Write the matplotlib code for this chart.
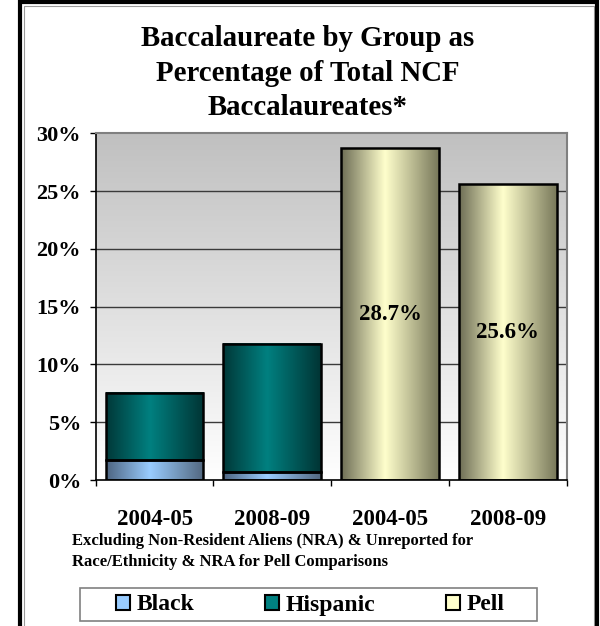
import matplotlib
matplotlib.use('Agg')
import matplotlib.pyplot as plt
import numpy as np
from matplotlib.colors import LinearSegmentedColormap
from matplotlib.patches import Patch, Rectangle
from matplotlib.lines import Line2D

# ---------------- data ----------------
categories = ["2004-05", "2008-09", "2004-05", "2008-09"]
race_positions = [0, 1]
pell_positions = [2, 3]
black_pct = [1.7, 0.7]
hispanic_pct = [5.8, 11.1]
pell_pct = [28.7, 25.6]
pell_labels = ["28.7%", "25.6%"]
y_ticks = [0, 5, 10, 15, 20, 25, 30]
y_tick_labels = ["0%", "5%", "10%", "15%", "20%", "25%", "30%"]
title_lines = ["Baccalaureate by Group as",
               "Percentage of Total NCF",
               "Baccalaureates*"]
footnote_lines = ["Excluding Non-Resident Aliens (NRA) & Unreported for",
                  "Race/Ethnicity & NRA for Pell Comparisons"]
legend_labels = ["Black", "Hispanic", "Pell"]

# ---------------- style ----------------
plt.rcParams['font.family'] = ['Liberation Serif', 'DejaVu Serif']
plt.rcParams['font.weight'] = 'bold'

W, H = 600, 626
fx = lambda x: x / W
fy = lambda y: 1 - y / H

series_colors = {
    "Black": ("#4d6480", "#99ccff", "#52677f"),
    "Hispanic": ("#003838", "#008080", "#003434"),
    "Pell": ("#6d6d55", "#ffffcc", "#78785a"),
}
cmaps = {k: LinearSegmentedColormap.from_list(k, [(0, v[0]), (0.45, v[1]), (1, v[2])])
         for k, v in series_colors.items()}

fig = plt.figure(figsize=(W / 100, H / 100), dpi=100)
ax = fig.add_axes([fx(95.7), fy(480), (566.7 - 95.7) / W, (480 - 133.3) / H])

# plot-area gradient background
bg_cmap = LinearSegmentedColormap.from_list("bg", ["#ffffff", "#c0c0c0"])
ax.imshow(np.linspace(1, 0, 256).reshape(-1, 1), cmap=bg_cmap, aspect='auto',
          extent=(-0.5, 3.5, 0, 30), origin='upper', zorder=0)
ax.hlines(y_ticks[1:-1], -0.5, 3.5, colors='#3a3a3a', lw=1, zorder=1)

width = 0.83
bar_kw = dict(facecolor='none', edgecolor='black', linewidth=1.8, zorder=3)
black_bars = ax.bar(race_positions, black_pct, width, **bar_kw)
hisp_bars = ax.bar(race_positions, hispanic_pct, width, bottom=black_pct, **bar_kw)
pell_bars = ax.bar(pell_positions, pell_pct, width, **bar_kw)

grad = np.linspace(0, 1, 256).reshape(1, -1)
for bars, name in [(black_bars, "Black"), (hisp_bars, "Hispanic"), (pell_bars, "Pell")]:
    for r in bars:
        x0, y0, w, h = r.get_x(), r.get_y(), r.get_width(), r.get_height()
        ax.imshow(grad, cmap=cmaps[name], aspect='auto',
                  extent=(x0, x0 + w, y0, y0 + h), zorder=2.5)

ax.bar_label(pell_bars, labels=pell_labels, label_type='center',
             fontsize=16.5, fontweight='bold', color='black')

ax.set_xlim(-0.5, 3.5)
ax.set_ylim(0, 30)
ax.set_yticks(y_ticks)
ax.set_yticklabels(y_tick_labels)
ax.set_xticks(range(len(categories)))
ax.set_xticklabels(categories)
ax.set_xticks(np.arange(-0.5, 3.6, 1), minor=True)
ax.tick_params(axis='y', direction='out', length=4.5, width=1, pad=6, labelsize=16)
ax.tick_params(axis='x', which='major', length=0, pad=21, labelsize=16.5)
ax.tick_params(axis='x', which='minor', direction='out', length=4.5, width=1)

for s in ['left', 'bottom']:
    ax.spines[s].set_color('black')
    ax.spines[s].set_linewidth(1.2)
for s in ['top', 'right']:
    ax.spines[s].set_color('#808080')
    ax.spines[s].set_linewidth(1.5)

# title
for line, base in zip(title_lines, [46, 81, 115]):
    fig.text(fx(308), fy(base), line, ha='center', va='baseline', fontsize=20.8, fontweight='bold')

# footnote
for line, base in zip(footnote_lines, [545, 566]):
    fig.text(fx(72), fy(base), line, ha='left', va='baseline', fontsize=12, fontweight='bold')

# legend
handles = [Patch(facecolor=series_colors[n][1], edgecolor='black', linewidth=1.5) for n in legend_labels]
fig.legend(handles, legend_labels, loc='center', bbox_to_anchor=(fx(310), fy(605)),
           ncol=3, frameon=False, fontsize=17, handlelength=0.62, handleheight=0.62,
           handletextpad=0.25, columnspacing=3.0, borderpad=0)
fig.add_artist(Rectangle((fx(80), fy(621)), 457 / W, 33 / H, transform=fig.transFigure,
                         fill=False, edgecolor='#808080', lw=1.2))

# outer frame with faint inner shadow
fig.add_artist(Line2D([fx(24), fx(24), fx(594), fx(594)], [0, fy(5.5), fy(5.5), 0],
                      transform=fig.transFigure, color='#9a9a9a', lw=0.8))
fig.add_artist(Line2D([fx(20), fx(20), fx(597), fx(597)], [0, fy(2), fy(2), 0],
                      transform=fig.transFigure, color='black', lw=3,
                      solid_joinstyle='miter'))

fig.savefig('out.png', dpi=100)
